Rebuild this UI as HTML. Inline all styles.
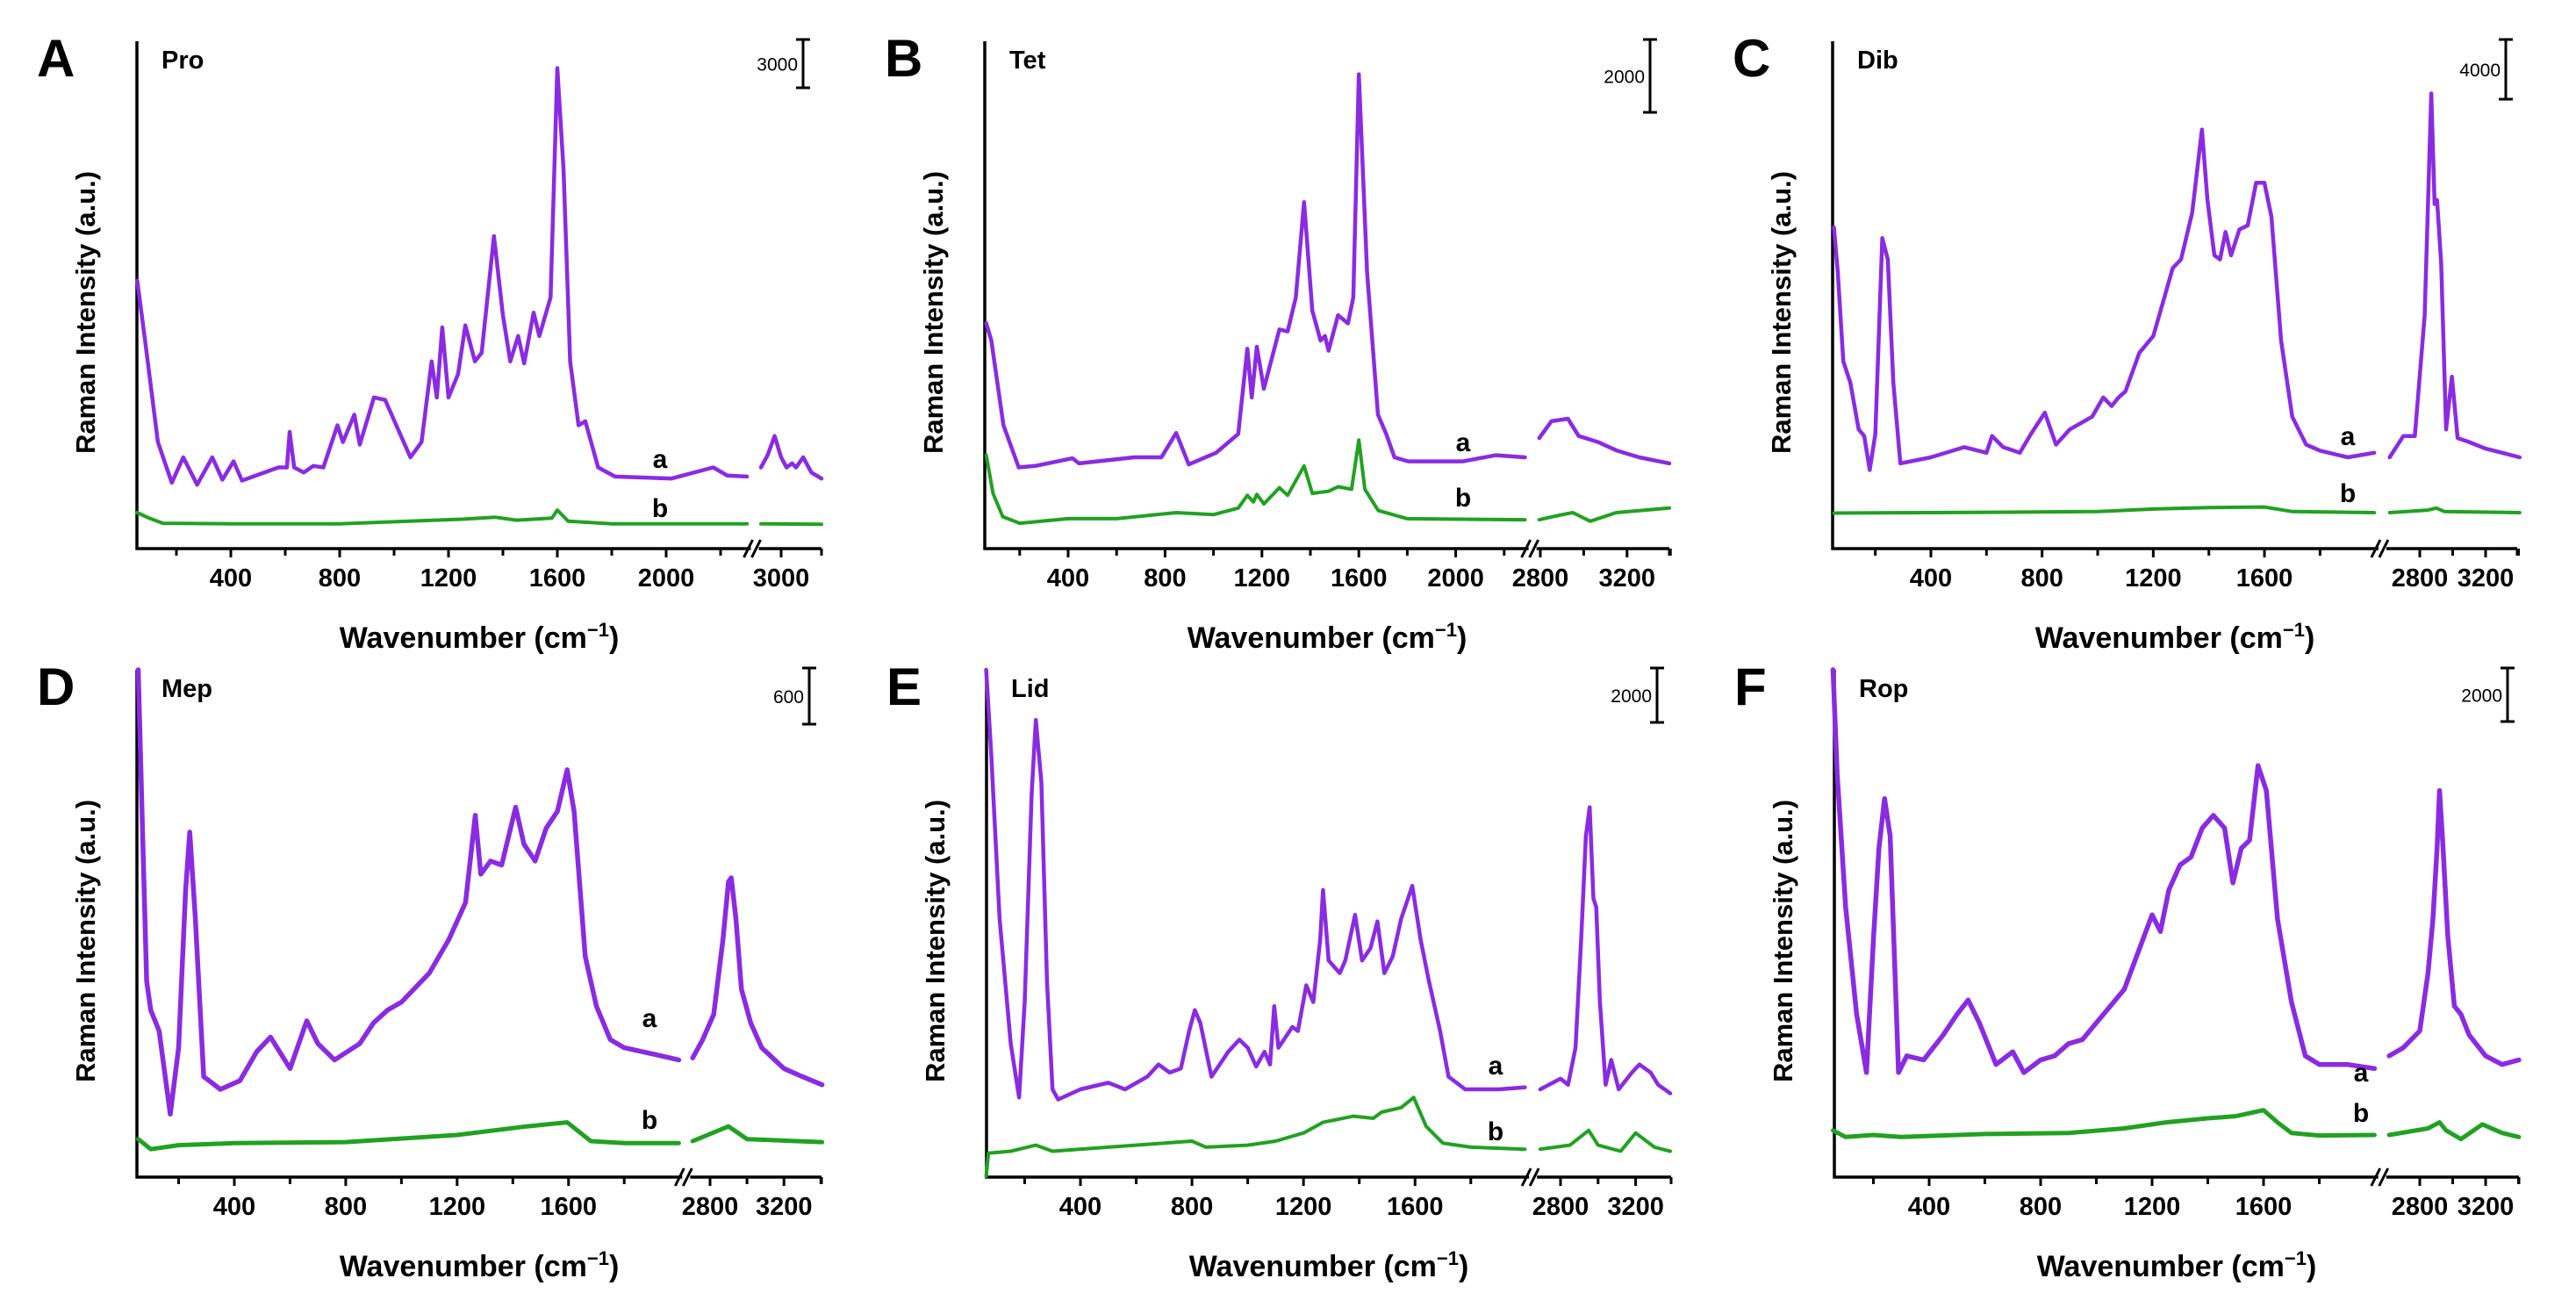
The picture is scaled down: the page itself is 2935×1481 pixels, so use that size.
<!DOCTYPE html>
<html><head><meta charset="utf-8"><style>
html,body{margin:0;padding:0;background:#fff;}
svg{display:block;}
.tick{font-family:"Liberation Sans Narrow","Liberation Sans",sans-serif;font-weight:bold;font-size:29px;fill:#000;}
.xl{font-family:"Liberation Sans Narrow","Liberation Sans",sans-serif;font-weight:bold;font-size:34px;fill:#000;}
.yl{font-family:"Liberation Sans",sans-serif;font-weight:bold;font-size:31px;fill:#000;}
.let{font-family:"Liberation Sans",sans-serif;font-weight:bold;font-size:60px;fill:#000;}
.nm{font-family:"Liberation Sans",sans-serif;font-weight:bold;font-size:29px;fill:#000;}
.lab{font-family:"Liberation Sans",sans-serif;font-weight:bold;font-size:30px;fill:#000;}
.sc{font-family:"Liberation Sans Narrow","Liberation Sans",sans-serif;font-size:21px;fill:#000;}
</style></head><body>
<svg id="fig" width="2935" height="1481" viewBox="0 0 2935 1481" xmlns="http://www.w3.org/2000/svg"></svg>
<script>
// ---------- data (wavenumber cm-1, intensity in % of plot height) ----------
const aWnA=[56,85,132,183,225,276,332,369,410,441,575,606,616,633,668,703,740,792,812,854,874,926,967,1060,1101,1138,1157,1177,1200,1235,1262,1297,1322,1367,1400,1427,1456,1478,1513,1534,1575,1600,1623,1647,1678,1703,1750,1812,2019,2173,2225,2297,2900,2933,2968,3000,3027,3054,3074,3109,3150,3200];
const aValA=[52.8,41,21,13,18,12.6,18,13.6,17.2,13.4,16,16,23,16,15,16.3,16,24.3,21,26.4,20.5,29.8,29.3,18,21,36.9,29.8,43.6,29.8,34.4,44,36.9,38.6,61.6,46,36.9,41.9,36.5,46.5,41.9,49.5,94.7,74.6,36.9,24.3,25.1,16,14.2,13.8,16,14.4,14.2,16,18.4,22.2,18,16,16.8,16,18,15,13.8];
const bWnA=[56,100,150,400,800,1150,1250,1370,1450,1580,1600,1640,1800,2297,2900,3200];
const bValA=[7.1,6,5,4.9,4.9,5.6,5.8,6.2,5.6,6,7.6,5.4,4.9,4.9,4.9,4.8];

const aWnB=[62,83,133,196,264,418,445,672,785,846,898,1011,1102,1140,1158,1179,1208,1272,1306,1340,1374,1408,1442,1460,1475,1514,1555,1577,1600,1634,1679,1713,1747,1804,2030,2166,2286,2795,2851,2927,2977,3066,3154,3256,3395];
const aValB=[44.4,41,24.3,16,16.3,17.8,16.8,18,18,22.8,16.6,18.9,22.6,39.4,29.8,39.8,31.5,43.2,42.8,49.5,68.3,46.9,41,41.9,39,46,44.4,49.5,93.5,54.5,26.4,22.6,18,17.2,17.2,18.4,18,21.8,25.1,25.6,22.2,21,19.3,18,16.8];
const bWnB=[62,90,130,200,400,600,846,1000,1102,1140,1165,1179,1208,1272,1306,1374,1408,1475,1514,1570,1600,1625,1680,1800,2286,2795,2900,2950,3030,3150,3395];
const bValB=[18.4,10.9,6.3,5,5.9,5.9,7.1,6.7,8,10.5,9.2,10.7,8.8,12,10.5,16.3,10.9,11.3,12.2,11.7,21.4,11.7,7.5,5.9,5.7,5.7,6.7,7.1,5.4,7.1,8];

const aWnC=[51,65,85,110,140,160,180,200,225,245,265,290,400,520,600,620,660,720,760,810,850,900,980,1020,1050,1075,1100,1150,1200,1240,1270,1300,1340,1375,1395,1420,1440,1460,1480,1510,1540,1570,1600,1625,1660,1700,1750,1800,1900,1995,2617,2700,2770,2830,2870,2890,2905,2930,2960,2995,3030,3100,3200,3300,3407];
const aValC=[63.3,54.5,36.9,32.7,23.5,22.2,15.5,22.6,61.2,57,32.7,16.8,18,20,18.9,22.2,20,18.9,22.6,26.8,20.5,23.5,26,29.8,28.1,29.8,31,38.6,41.9,49.5,55.3,57,66.2,82.6,68.7,57.8,57,62.4,57.8,62.9,63.7,72.1,72.1,65.4,41,26,20.5,19.3,18,18.9,18,22.2,22.2,46,89.7,67.9,68.7,56.2,23.5,33.9,21.8,21,19.7,18.9,18];
const bWnC=[51,400,1000,1200,1400,1600,1700,1995,2617,2850,2900,2950,3407];
const bValC=[7,7.1,7.3,7.8,8.1,8.2,7.3,7.1,7.1,7.6,8,7.3,7.1];

const aWnD=[55,70,85,100,130,170,200,225,240,260,290,350,420,480,530,600,660,700,760,850,900,950,1000,1100,1170,1230,1265,1285,1320,1360,1410,1440,1480,1520,1560,1595,1620,1660,1700,1750,1800,1900,1996,2706,2760,2820,2870,2900,2915,2940,2970,3020,3080,3200,3300,3406];
const aValD=[100,68.8,38.6,32.9,28.8,12.4,25.5,56.6,68,50.9,19.8,17.3,19,24.7,27.6,21.4,30.8,26.3,23.1,26.3,30.4,32.9,34.5,40.2,46.8,54.1,71.3,59.7,62.3,61.5,72.9,65.6,62.3,68.8,72.1,80.3,72.1,43.5,33.7,27.1,25.5,24.3,23.1,23.5,27.1,32.1,46.8,58.2,59,50.9,37,30.4,25.5,21.4,19.8,18.2];
const bWnD=[55,100,200,400,800,1200,1450,1595,1680,1800,1996,2706,2900,3000,3406];
const bValD=[7.5,5.5,6.3,6.7,6.9,8.3,10,10.8,7.1,6.7,6.7,7.1,10,7.5,6.9];

const aWnE=[62,80,110,150,180,200,225,240,260,280,300,320,400,500,560,640,680,720,760,790,810,830,870,930,970,1000,1030,1060,1080,1095,1110,1160,1180,1210,1235,1260,1270,1290,1330,1350,1385,1410,1440,1465,1490,1520,1550,1590,1620,1650,1690,1720,1780,1900,1994,2692,2800,2840,2880,2910,2935,2955,2975,2990,3010,3040,3070,3110,3180,3220,3280,3320,3384];
const aValE=[100,83.6,50.9,26.3,15.7,34.5,75.4,90.1,77.8,38.6,17.3,15.3,17.3,18.6,17.3,19.8,22.2,20.6,21.4,28.8,32.9,30.4,19.8,24.7,27.1,25.5,21.8,24.7,22.2,33.7,25.5,29.6,28.8,37.8,34.5,46.8,56.6,42.7,40.2,42.7,51.7,42.7,45.1,50.4,40.2,43.5,50.9,57.4,46.8,38.6,28.8,19.8,17.3,17.3,17.7,17.3,19.4,18.2,25.5,46.8,67.2,72.9,54.9,53.2,34.5,18.2,23.1,17.3,20.6,22.2,20.6,18.2,16.5];
const bWnE=[62,70,150,240,300,500,800,850,1000,1100,1200,1270,1380,1450,1480,1550,1595,1640,1700,1800,1994,2692,2850,2950,3000,3120,3200,3300,3384];
const bValE=[0.2,4.7,5.1,6.3,5.1,5.9,7.1,5.9,6.3,7.1,8.7,10.8,12,11.6,12.8,13.7,15.7,10,6.7,5.9,5.5,5.5,6.3,9.2,6.3,5.1,8.7,5.9,5.1];

const aWnF=[55,70,100,140,175,200,220,240,260,290,320,380,450,500,540,580,640,700,740,800,850,900,950,1000,1050,1100,1150,1200,1230,1260,1300,1340,1380,1420,1460,1490,1520,1550,1580,1610,1650,1700,1750,1800,1900,1998,2614,2700,2800,2850,2880,2905,2920,2940,2970,3010,3050,3100,3200,3300,3402];
const aValF=[100,79.5,53.3,32.1,20.6,46.8,64.8,74.6,67.2,20.6,23.9,23.1,28,32.1,34.9,30.4,22.2,24.7,20.6,23.1,23.9,26.3,27.1,30.4,33.7,37,44.3,51.7,48.4,56.6,61.5,63.1,68.8,71.3,68.8,58,64.8,66.4,81.1,76.2,50.9,34.5,23.9,22.2,22.2,21.4,23.9,25.5,28.8,40.2,50.9,64.8,76.2,65.6,47.6,33.7,32.1,28,23.9,22.2,23.1];
const bWnF=[55,100,200,300,600,900,1100,1250,1400,1500,1600,1650,1700,1800,1998,2614,2850,2920,2960,3050,3180,3300,3402];
const bValF=[9.2,7.9,8.3,7.9,8.5,8.7,9.6,10.8,11.6,12,13.2,10.8,8.7,8.2,8.3,8.3,9.6,10.8,9.2,7.5,10.4,8.7,7.9];

const loTicksStd=[400,800,1200,1600];
const hiTicksStd=[2800,3200];

// ---------- layout ----------
const NS="http://www.w3.org/2000/svg";
const svg=document.getElementById('fig');
const H=578;
const PURPLE="#8a2be2", GREEN="#21a121";
const panels=[
 {id:'a',letter:'A',name:'Pro',ox:156,by:625,lo:{ref:400,px:107,k:0.31,min:55,max:2300},hi:{ref:2900,px:711,k:0.23,min:2900,max:3200},loT:[400,800,1200,1600,2000],loMinor:[200,600,1000,1400,1800,2200],hiT:[3000],hiMinor:[],scale:'3000',sbx:915,sb:[45,100],lax:752,lay:[523,579],aW:4.5,aWn:aWnA,aV:aValA,bWn:bWnA,bV:bValA},
 {id:'b',letter:'B',name:'Tet',ox:1122,by:625,lo:{ref:400,px:95,k:0.276,min:56,max:2286},hi:{ref:2800,px:633,k:0.247,min:2795,max:3400},loT:[400,800,1200,1600,2000],loMinor:[200,600,1000,1400,1800,2200],hiT:[2800,3200],hiMinor:[3000,3400],scale:'2000',sbx:1880,sb:[45,128],lax:1667,lay:[504,567],aW:4.5,aWn:aWnB,aV:aValB,bWn:bWnB,bV:bValB},
 {id:'c',letter:'C',name:'Dib',ox:2088,by:625,lo:{ref:400,px:112,k:0.3167,min:51,max:1995},hi:{ref:2800,px:669,k:0.1875,min:2617,max:3407},loT:loTicksStd,loMinor:[200,600,1000,1400,1800],hiT:hiTicksStd,hiMinor:[3000,3400],scale:'4000',sbx:2855,sb:[45,113],lax:2675,lay:[497,562],aW:4.5,aWn:aWnC,aV:aValC,bWn:bWnC,bV:bValC},
 {id:'d',letter:'D',name:'Mep',ox:156,by:1341,lo:{ref:400,px:111,k:0.3173,min:52,max:1996},hi:{ref:2800,px:653,k:0.2105,min:2706,max:3406},loT:loTicksStd,loMinor:[200,600,1000,1400,1800],hiT:hiTicksStd,hiMinor:[3000,3400],scale:'600',sbx:922,sb:[761,825],lax:740,lay:[1160,1276],aW:5.5,aWn:aWnD,aV:aValD,bWn:bWnD,bV:bValD},
 {id:'e',letter:'E',name:'Lid',ox:1124,by:1341,lo:{ref:400,px:107,k:0.3177,min:62,max:1994},hi:{ref:2800,px:654,k:0.214,min:2692,max:3384},loT:loTicksStd,loMinor:[200,600,1000,1400,1800],hiT:hiTicksStd,hiMinor:[3000,3400],scale:'2000',sbx:1888,sb:[761,823],lax:1704,lay:[1214,1289],aW:4.5,aWn:aWnE,aV:aValE,bWn:bWnE,bV:bValE},
 {id:'f',letter:'F',name:'Rop',ox:2090,by:1341,lo:{ref:400,px:108,k:0.3175,min:55,max:1998},hi:{ref:2800,px:667,k:0.1876,min:2614,max:3402},loT:loTicksStd,loMinor:[200,600,1000,1400,1800],hiT:hiTicksStd,hiMinor:[3000,3400],scale:'2000',sbx:2857,sb:[761,822],lax:2690,lay:[1222,1268],aW:5.5,aWn:aWnF,aV:aValF,bWn:bWnF,bV:bValF}
];

function el(tag,attrs,parent){const e=document.createElementNS(NS,tag);for(const k in attrs)e.setAttribute(k,attrs[k]);(parent||svg).appendChild(e);return e;}
function segX(s,wn){return s.px+(wn-s.ref)*s.k;}
function xScale(p,wn){
  if(wn<=p.lo.max+1)return p.ox+segX(p.lo,wn);
  return p.ox+segX(p.hi,wn);
}
function yScale(p,v){return p.by-v/100*H;}

panels.forEach(p=>{
  const g=el('g',{});
  
  
  const loEnd=p.ox+segX(p.lo,p.lo.max);
  const hiStart=p.ox+segX(p.hi,p.hi.min);
  const right=p.ox+780;
  const brk=(loEnd+hiStart)/2;
  const ya=el('line',{x1:p.ox,y1:p.by-H,x2:p.ox,y2:p.by+1.5,stroke:'#000','stroke-width':3.5},g);
  
  
  const xa1=el('line',{x1:p.ox-1.5,y1:p.by,x2:brk-4,y2:p.by,stroke:'#000','stroke-width':3.5},g);
  
  
  const xa2=el('line',{x1:brk+5,y1:p.by,x2:right,y2:p.by,stroke:'#000','stroke-width':3.5},g);
  
  
  [brk-7,brk+2].forEach(bx=>{
    const b=el('line',{x1:bx-5,y1:p.by+10,x2:bx+5,y2:p.by-10,stroke:'#000','stroke-width':3},g);
    
    
  });
  const et=el('line',{x1:right,y1:p.by,x2:right,y2:p.by+8,stroke:'#000','stroke-width':3},g);
  
  
  const addTick=(x,len)=>{const t=el('line',{x1:x,y1:p.by,x2:x,y2:p.by+len,stroke:'#000','stroke-width':3},g);
    
    };
  const addLab=(x,txt)=>{const t=el('text',{x:x,y:p.by+43,'text-anchor':'middle',class:'tick'},g);t.textContent=txt;
    
    };
  p.loT.forEach(w=>{const x=p.ox+segX(p.lo,w);addTick(x,10);addLab(x,String(w));});
  p.loMinor.forEach(w=>{if(w>=p.lo.min&&w<=p.lo.max)addTick(p.ox+segX(p.lo,w),8);});
  p.hiT.forEach(w=>{const x=p.ox+segX(p.hi,w);addTick(x,10);addLab(x,String(w));});
  p.hiMinor.forEach(w=>{if(w>=p.hi.min&&w<=p.hi.max)addTick(p.ox+segX(p.hi,w),8);});
  const drawSeries=(wns,vals,color,w,nm)=>{
    let lo='',hi='';
    wns.forEach((wn,i)=>{
      const x=xScale(p,wn).toFixed(1),y=Math.max(p.by-H,yScale(p,vals[i])).toFixed(1);
      if(wn<=p.lo.max+1)lo+=(lo?'L':'M')+x+' '+y;else hi+=(hi?'L':'M')+x+' '+y;
    });
    [lo,hi].forEach((d,k)=>{if(!d)return;
      const pa=el('path',{d:d,fill:'none',stroke:color,'stroke-width':w,'stroke-linejoin':'round','stroke-linecap':'round'},g);
      
      });
  };
  drawSeries(p.aWn,p.aV,PURPLE,p.aW,'spectrum-a');
  drawSeries(p.bWn,p.bV,GREEN,p.aW-0.5,'spectrum-b');
  const L=el('text',{x:p.ox-114,y:p.by-H+40,class:'let'},g);L.textContent=p.letter;
  
  
  const N=el('text',{x:p.ox+28,y:p.by-H+31,class:'nm'},g);N.textContent=p.name;
  
  
  const la=el('text',{x:p.lax,y:p.lay[0]+10,'text-anchor':'middle',class:'lab'},g);la.textContent='a';
  
  
  const lb=el('text',{x:p.lax,y:p.lay[1]+10,'text-anchor':'middle',class:'lab'},g);lb.textContent='b';
  
  
  const sbg=el('g',{},g);
  
  
  el('line',{x1:p.sbx,y1:p.sb[0],x2:p.sbx,y2:p.sb[1],stroke:'#000','stroke-width':3},sbg);
  el('line',{x1:p.sbx-8,y1:p.sb[0],x2:p.sbx+8,y2:p.sb[0],stroke:'#000','stroke-width':3},sbg);
  el('line',{x1:p.sbx-8,y1:p.sb[1],x2:p.sbx+8,y2:p.sb[1],stroke:'#000','stroke-width':3},sbg);
  const st=el('text',{x:p.sbx-6,y:(p.sb[0]+p.sb[1])/2+8,'text-anchor':'end',class:'sc'},sbg);st.textContent=p.scale;
  const xt=el('text',{x:p.ox+390,y:p.by+113,'text-anchor':'middle',class:'xl'},g);
  xt.innerHTML='Wavenumber (cm<tspan dy="-13" font-size="22">−1</tspan><tspan dy="13">)</tspan>';
  
  
  const cy=p.by-H/2+20;
  const yt=el('text',{x:0,y:0,'text-anchor':'middle',class:'yl',transform:'translate('+(p.ox-48)+','+cy+') rotate(-90)'},g);
  yt.textContent='Raman Intensity (a.u.)';
  
  
});
</script>
</body></html>
